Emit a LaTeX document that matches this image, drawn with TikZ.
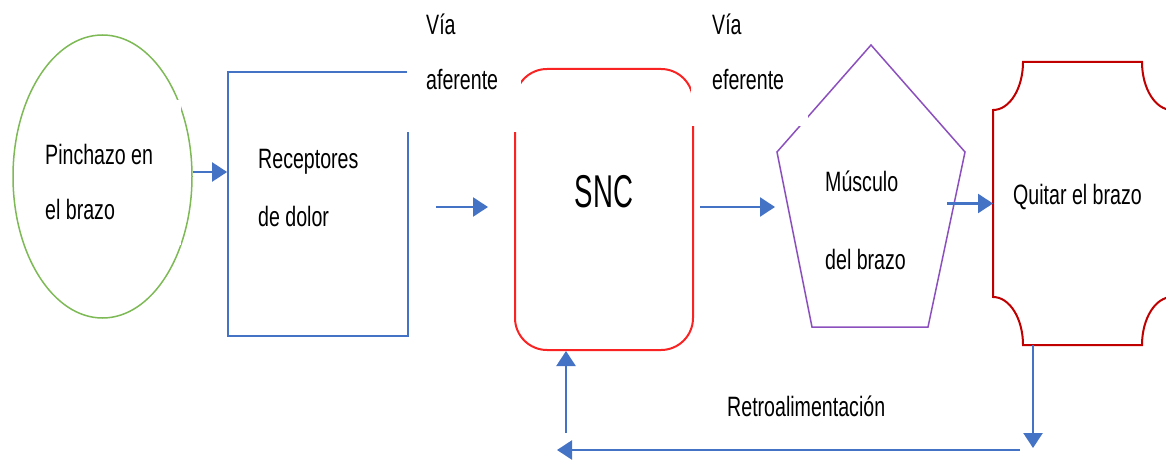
\documentclass[tikz,border=0pt]{standalone}
\usepackage{fontspec}
\setmainfont{Liberation Sans}[FakeStretch=0.70]
\newfontfamily\sncfont{Liberation Sans}[FakeStretch=0.60]
\usetikzlibrary{shapes}
\usetikzlibrary{calc}
\usetikzlibrary{arrows.meta}

\definecolor{verde}{RGB}{125,185,85}
\definecolor{azul}{RGB}{68,114,196}
\definecolor{rojo}{RGB}{250,35,35}
\definecolor{granate}{RGB}{192,0,0}
\definecolor{morado}{RGB}{140,80,190}

\begin{document}
\begin{tikzpicture}[
	x=1pt, y=-1pt,
	font=\fontsize{28}{55}\selectfont
]
\tikzset{
    circulo/.style = {ellipse, draw=verde, line width=1.5pt, minimum width=179pt, minimum height=283pt, inner sep=0pt},
    caja/.style = {rectangle, draw=azul, line width=1.8pt, minimum width=180pt, minimum height=264pt, inner sep=0pt},
    redonda/.style = {rectangle, rounded corners=32pt, draw=rojo, line width=2pt, minimum width=178pt, minimum height=281pt, inner sep=0pt},
    marco/.style = {rectangle, minimum width=#1, minimum height=283pt, inner sep=0pt, outer sep=0pt},
    pentagono/.style = {draw=morado, line width=1.5pt},
    placa/.style = {draw=granate, line width=2pt},
    texto/.style = {anchor=base west, inner sep=0pt},
    tapa/.style = {anchor=base west, fill=white, inner ysep=0pt, align=flush left},
    flecha/.style = {draw=azul, line width=2.4pt, -{Triangle[length=15pt,width=19pt]}}
}
\useasboundingbox (0,0) rectangle (1166,462);
%
\node[circulo] at (102.5,176.5) (pinchazo) {};
\node[caja] at (318,204) (receptores) {};
\node[redonda] at (604,209.5) (snc) {};
\node[marco=188pt, minimum height=282pt] at (871,186) (musculo) {};
\node[marco=179pt] at (1082.5,203.5) (quitar) {};
%
\draw[pentagono] (musculo.north) -- ($(musculo.north east)+(0,107)$)
    -- ($(musculo.south east)+(-37,0)$) -- ($(musculo.south west)+(35,0)$)
    -- ($(musculo.north west)+(0,107)$) -- cycle;
\draw[placa] ($(quitar.north west)+(0,48)$) .. controls +(16.6,0) and +(0,26.5) .. ($(quitar.north west)+(30,0)$)
    -- ($(quitar.north east)+(-30,0)$) .. controls +(0,26.5) and +(-16.6,0) .. ($(quitar.north east)+(0,48)$)
    -- ($(quitar.south east)+(0,-48)$) .. controls +(-16.6,0) and +(0,-26.5) .. ($(quitar.south east)+(-30,0)$)
    -- ($(quitar.south west)+(30,0)$) .. controls +(0,-26.5) and +(16.6,0) .. ($(quitar.south west)+(0,-48)$)
    -- cycle;
%
\node[tapa, inner xsep=17pt, text width=119pt, text height=65pt, text depth=80pt] at (28,165) (pinchazo texto) {Pinchazo en\\el brazo};
\node[tapa, inner xsep=19pt, text width=76pt, text height=50pt, text depth=97pt] at (407,35) (via aferente) {Vía\\aferente};
\node[tapa, inner xsep=21pt, text width=75pt, text height=50pt, text depth=91pt] at (691,35) (via eferente) {Vía\\eferente};
%
\node[texto, text width=120pt, align=flush left] at (258,169) (receptores texto) {Receptores\\[3pt]de dolor};
\node[anchor=base, inner sep=0pt, font=\sncfont\fontsize{46}{50}\selectfont] at (604,208) (snc texto) {SNC};
\node[texto, text width=110pt, align=flush left] at (825,192) (musculo texto) {Músculo\\[23pt]del brazo};
\node[texto] at (1013,205) (quitar texto) {Quitar el brazo};
\node[texto] at (727,416) (retro texto) {Retroalimentación};
%
\draw[flecha] ([yshift=4.5pt]pinchazo.east) -- ([yshift=4.5pt]pinchazo.east -| receptores.west);
\draw[flecha, shorten <=27pt, shorten >=26pt] ([yshift=-3pt]receptores.east) -- ([yshift=-3pt]receptores.east -| snc.west);
\draw[flecha, shorten <=6pt, shorten >=2pt] ([yshift=2.5pt]snc.east) -- ([yshift=2.5pt]snc.east -| musculo.west);
\draw[flecha] ($(musculo.east |- quitar.west)+(-18,0)$) -- (quitar.west);
%
\coordinate (retro baja) at (1033,448);
\coordinate (retro der) at (1020,450);
\coordinate (retro izq) at (557,450);
\coordinate (retro sube) at (566,433);
\draw[flecha] (retro baja |- quitar.south) -- (retro baja);
\draw[flecha] (retro der) -- (retro izq);
\draw[flecha] (retro sube) -- (retro sube |- snc.south);
\end{tikzpicture}
\end{document}
